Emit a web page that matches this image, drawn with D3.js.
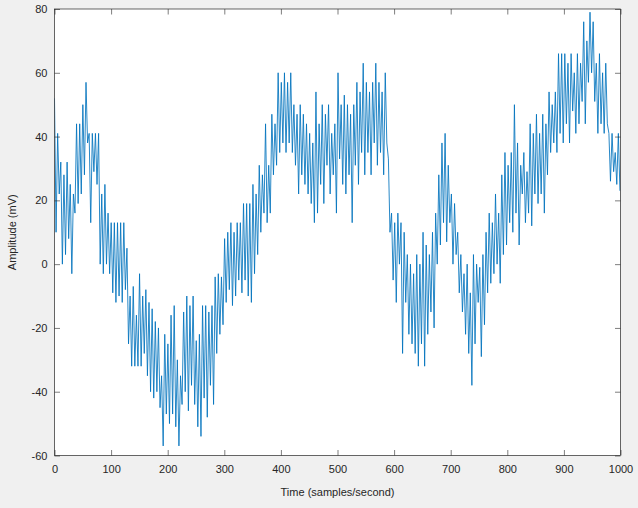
<!DOCTYPE html>
<html>
<head>
<meta charset="utf-8">
<script src="https://cdn.jsdelivr.net/npm/d3@7"></script>
<style>
  html, body { margin: 0; padding: 0; background: #f0f0f0; }
  svg { display: block; }
  text { font-family: "Liberation Sans", Arial, Helvetica, sans-serif; fill: #262626; }
</style>
</head>
<body>
<div id="chart"></div>
<script>
// Axis ranges and tick labels
const xDomain = [0, 1000];
const yDomain = [-60, 80];
const xTicks = [0, 100, 200, 300, 400, 500, 600, 700, 800, 900, 1000];
const yTicks = [-60, -40, -20, 0, 20, 40, 60, 80];
const xLabel = "Time (samples/second)";
const yLabel = "Amplitude (mV)";

// Signal vertices (alternating peak / trough),
// evenly spread over samples 0..999 in 50-sample segments.
const amplitude = [
  // 0-50
  52,10, 41,22, 32,0, 28,3, 32,8, 25,-3, 22,16, 44,19, 44,22,
  // 50-100
  50,28, 57,38, 41,13, 41,29, 41,25, 41,0, 22,-3, 25,0, 16,-3,
  // 100-150
  13,-9, 13,-12, 13,-10, 13,-12, 13,-8, 5,-25, -10,-32, -7,-32, -16,-32,
  // 150-200
  -3,-32, -10,-28, -8,-35, -12,-40, -14,-42, -18,-40, -20,-45, -35,-57, -22,-47,
  // 200-250
  -25,-50, -16,-47, -13,-51, -30,-57, -35,-44, -15,-40, -10,-46, -13,-38, -10,-44,
  // 250-300
  -24,-51, -22,-54, -13,-42, -13,-48, -15,-38, -13,-44, -4,-28, -3,-22, -4,-19,
  // 300-350
  8,-12, 10,-8, 13,-13, 10,-10, 13,-5, 13,-9, 19,-5, 19,-10, 19,-12,
  // 350-400
  25,-3, 22,3, 31,10, 28,16, 44,13, 31,16, 47,28, 44,31, 60,35,
  // 400-450
  57,38, 60,35, 57,38, 60,35, 50,31, 47,22, 50,28, 47,25, 44,22,
  // 450-500
  41,19, 38,13, 54,16, 44,25, 50,19, 47,31, 50,22, 41,28, 44,16,
  // 500-550
  60,33, 50,25, 53,22, 50,28, 47,13, 50,31, 57,25, 54,35, 63,28,
  // 550-600
  57,35, 54,28, 57,38, 63,31, 57,35, 54,28, 60,38, 33,10, 16,-5,
  // 600-650
  13,-12, 16,0, 13,-28, 10,-12, 3,-22, 0,-25, -3,-28, 3,-32, 0,-25,
  // 650-700
  10,-32, 6,-22, 3,-15, 10,-20, 16,0, 28,6, 38,13, 41,7, 31,13,
  // 700-750
  22,0, 19,3, 10,-9, 3,-15, -3,-22, 0,-28, -9,-38, 3,-25, 0,-12,
  // 750-800
  -1,-29, 3,-19, 10,-9, 16,-6, 13,-3, 22,0, 16,-6, 28,3, 35,6,
  // 800-850
  31,13, 35,10, 50,16, 38,6, 31,22, 35,13, 29,16, 44,12, 41,22,
  // 850-900
  47,19, 41,22, 47,16, 44,28, 54,35, 50,38, 54,35, 66,41, 66,38,
  // 900-950
  66,44, 63,38, 66,48, 60,41, 66,44, 63,51, 76,44, 70,57, 79,60,
  // 950-1000
  76,51, 63,41, 66,44, 60,41, 63,44, 41,26, 41,29, 35,25, 41,23
];
const lastSample = 999;

const W = 638, H = 508;
const plot = { left: 54.5, right: 620.5, top: 9, bottom: 455.5 };

const svg = d3.select("#chart").append("svg")
  .attr("width", W).attr("height", H);

svg.append("rect").attr("width", W).attr("height", H).attr("fill", "#f0f0f0");
svg.append("rect")
  .attr("x", plot.left).attr("y", plot.top)
  .attr("width", plot.right - plot.left).attr("height", plot.bottom - plot.top)
  .attr("fill", "#ffffff");

const x = d3.scaleLinear().domain(xDomain).range([plot.left, plot.right]);
const y = d3.scaleLinear().domain(yDomain).range([plot.bottom, plot.top]);

const step = lastSample / (amplitude.length - 1);
const data = amplitude.map((v, i) => ({ t: i * step, v }));

const clipId = "plotclip";
svg.append("clipPath").attr("id", clipId).append("rect")
  .attr("x", plot.left).attr("y", plot.top)
  .attr("width", plot.right - plot.left).attr("height", plot.bottom - plot.top);

svg.append("path")
  .datum(data)
  .attr("clip-path", `url(#${clipId})`)
  .attr("fill", "none")
  .attr("stroke", "#0072BD")
  .attr("stroke-width", 0.85)
  .attr("stroke-linejoin", "miter")
  .attr("d", d3.line().x(d => x(d.t)).y(d => y(d.v)));

const tickLen = 5.5;
const axisColor = "#262626";
const fmt = d => String(d); // plain hyphen-minus, as in the reference

function styleAxis(g) {
  g.select(".domain").remove();
  g.selectAll(".tick line").attr("stroke", axisColor).attr("stroke-width", 0.6);
  g.selectAll(".tick text").attr("fill", axisColor)
    .style("font-family", '"Liberation Sans", Arial, Helvetica, sans-serif')
    .style("font-size", "11px");
}

// bottom axis (ticks inward)
svg.append("g").attr("transform", `translate(0,${plot.bottom})`)
  .call(d3.axisBottom(x).tickValues(xTicks).tickSizeInner(-tickLen).tickSizeOuter(0).tickPadding(10).tickFormat(fmt))
  .call(styleAxis);
// top axis ticks only
svg.append("g").attr("transform", `translate(0,${plot.top})`)
  .call(d3.axisTop(x).tickValues(xTicks).tickSizeInner(-tickLen).tickSizeOuter(0).tickFormat(""))
  .call(styleAxis);
// left axis
svg.append("g").attr("transform", `translate(${plot.left},0)`)
  .call(d3.axisLeft(y).tickValues(yTicks).tickSizeInner(-tickLen).tickSizeOuter(0).tickPadding(7).tickFormat(fmt))
  .call(styleAxis);
// right axis ticks only
svg.append("g").attr("transform", `translate(${plot.right},0)`)
  .call(d3.axisRight(y).tickValues(yTicks).tickSizeInner(-tickLen).tickSizeOuter(0).tickFormat(""))
  .call(styleAxis);

// box
svg.append("rect")
  .attr("x", plot.left).attr("y", plot.top)
  .attr("width", plot.right - plot.left).attr("height", plot.bottom - plot.top)
  .attr("fill", "none").attr("stroke", axisColor).attr("stroke-width", 0.7);

svg.append("text")
  .attr("x", (plot.left + plot.right) / 2).attr("y", 496)
  .attr("text-anchor", "middle")
  .style("font-size", "11px")
  .text(xLabel);

svg.append("text")
  .attr("transform", `translate(16,${(plot.top + plot.bottom) / 2}) rotate(-90)`)
  .attr("text-anchor", "middle")
  .style("font-size", "11px")
  .text(yLabel);
</script>
</body>
</html>
